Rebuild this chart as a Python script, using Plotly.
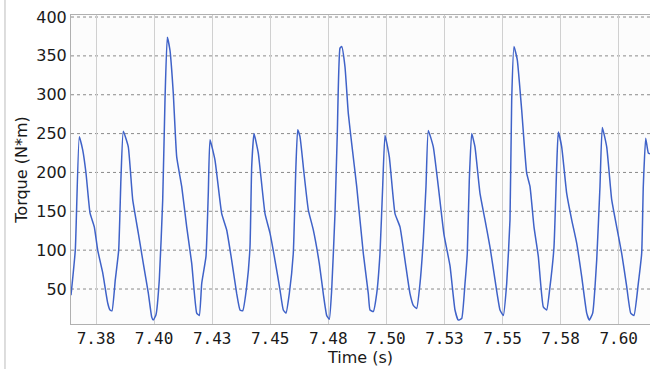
import plotly.graph_objects as go

time_s = [
    7.36424, 7.36609, 7.36781, 7.36927, 7.37070, 7.37242, 7.37427, 7.37573, 7.37788, 7.38004,
    7.38103, 7.38189, 7.38331, 7.38477, 7.38576, 7.38675, 7.38890, 7.39080, 7.39321, 7.39536,
    7.39751, 7.39898, 7.39967, 7.40083, 7.40225, 7.40371, 7.40470, 7.40569, 7.40685, 7.40827,
    7.40974, 7.41189, 7.41404, 7.41620, 7.41835, 7.41947, 7.42050, 7.42235, 7.42334, 7.42407,
    7.42622, 7.42911, 7.43126, 7.43341, 7.43557, 7.43699, 7.43815, 7.43987, 7.44129, 7.44202,
    7.44301, 7.44486, 7.44775, 7.44990, 7.45205, 7.45420, 7.45563, 7.45679, 7.45821, 7.45993,
    7.46096, 7.46182, 7.46281, 7.46454, 7.46639, 7.46854, 7.47112, 7.47284, 7.47431, 7.47543,
    7.47646, 7.47788, 7.47887, 7.48003, 7.48077, 7.48218, 7.48361, 7.48507, 7.48722, 7.49006,
    7.49222, 7.49295, 7.49437, 7.49583, 7.49725, 7.49841, 7.49940, 7.50126, 7.50371, 7.50586,
    7.50801, 7.51016, 7.51159, 7.51305, 7.51447, 7.51589, 7.51705, 7.51804, 7.52020, 7.52235,
    7.52480, 7.52738, 7.52954, 7.53096, 7.53242, 7.53384, 7.53483, 7.53569, 7.53673, 7.53814,
    7.54030, 7.54245, 7.54460, 7.54675, 7.54891, 7.55033, 7.55179, 7.55321, 7.55394, 7.55493,
    7.55635, 7.55825, 7.56040, 7.56182, 7.56354, 7.56540, 7.56755, 7.56901, 7.57043, 7.57215,
    7.57331, 7.57400, 7.57547, 7.57762, 7.57977, 7.58192, 7.58408, 7.58623, 7.58735, 7.58881,
    7.59053, 7.59195, 7.59294, 7.59484, 7.59699, 7.59914, 7.60129, 7.60345, 7.60517, 7.60659,
    7.60844, 7.60990, 7.61059, 7.61163, 7.61275, 7.61348,
]

torque_nm = [
    42, 100, 246, 229, 199, 148, 130, 100, 71, 32,
    23, 22, 62, 100, 194, 253, 233, 165, 122, 83,
    45, 14, 10, 17, 62, 164, 293, 374, 357, 302,
    220, 182, 130, 83, 19, 16, 57, 92, 173, 242,
    216, 147, 126, 87, 44, 23, 22, 53, 104, 207,
    250, 225, 147, 122, 87, 49, 23, 19, 44, 96,
    199, 255, 246, 199, 152, 126, 83, 44, 16, 11,
    49, 147, 250, 360, 362, 336, 276, 237, 182, 96,
    44, 23, 21, 44, 96, 182, 248, 220, 147, 130,
    87, 44, 29, 25, 57, 113, 182, 254, 233, 182,
    120, 80, 23, 10, 12, 57, 96, 190, 250, 233,
    173, 139, 104, 62, 23, 16, 57, 139, 293, 362,
    345, 280, 199, 182, 130, 92, 27, 23, 53, 104,
    207, 252, 233, 173, 139, 109, 66, 19, 10, 19,
    87, 182, 258, 233, 165, 130, 96, 53, 19, 16,
    57, 96, 182, 244, 225, 224,
]

x_tick_vals = [7.375, 7.400, 7.425, 7.450, 7.475, 7.500, 7.525, 7.550, 7.575, 7.600]
x_tick_text = ["7.38", "7.40", "7.43", "7.45", "7.48", "7.50", "7.53", "7.55", "7.58", "7.60"]
y_tick_vals = [50, 100, 150, 200, 250, 300, 350, 400]

fig = go.Figure()
fig.add_trace(go.Scatter(
    x=time_s, y=torque_nm, mode="lines",
    line=dict(color="#3f62c8", width=1.5, shape="spline", smoothing=0.4),
    showlegend=False,
))

# dotted horizontal grid lines
for v in y_tick_vals:
    fig.add_shape(type="line", xref="paper", x0=0, x1=1, yref="y", y0=v, y1=v,
                  line=dict(color="#8a8a8a", width=1, dash="dot"), layer="below")

# left page border
fig.add_shape(type="line", xref="paper", yref="paper", x0=-0.114, x1=-0.114, y0=-0.15, y1=1.05,
              line=dict(color="#bbbbbb", width=1))

fig.update_layout(
    width=650, height=369,
    margin=dict(l=71, r=0, t=15, b=45, autoexpand=False),
    paper_bgcolor="white",
    plot_bgcolor="#fcfcfc",
    font=dict(family="DejaVu Sans, Verdana, sans-serif", size=16, color="#1a1a1a"),
    xaxis=dict(
        range=[7.36424, 7.61348],
        tickmode="array", tickvals=x_tick_vals, ticktext=x_tick_text,
        tickfont=dict(family="DejaVu Sans Mono, monospace", size=16, color="#1a1a1a"),
        showgrid=True, gridcolor="#d0d0d0", gridwidth=1,
        showline=True, linecolor="#b0b0b0", linewidth=1, mirror=True,
        ticks="", zeroline=False,
        title=dict(text="Time (s)", standoff=3, font=dict(size=16)),
    ),
    yaxis=dict(
        range=[5, 402.6],
        tickmode="array", tickvals=y_tick_vals,
        showgrid=False,
        showline=True, linecolor="#b0b0b0", linewidth=1, mirror=True,
        ticks="", zeroline=False,
        title=dict(text="Torque (N*m)", standoff=4, font=dict(size=16)),
    ),
)

fig.write_html("out.html", config={"displayModeBar": False},
               post_script="document.body.style.margin='0';")
